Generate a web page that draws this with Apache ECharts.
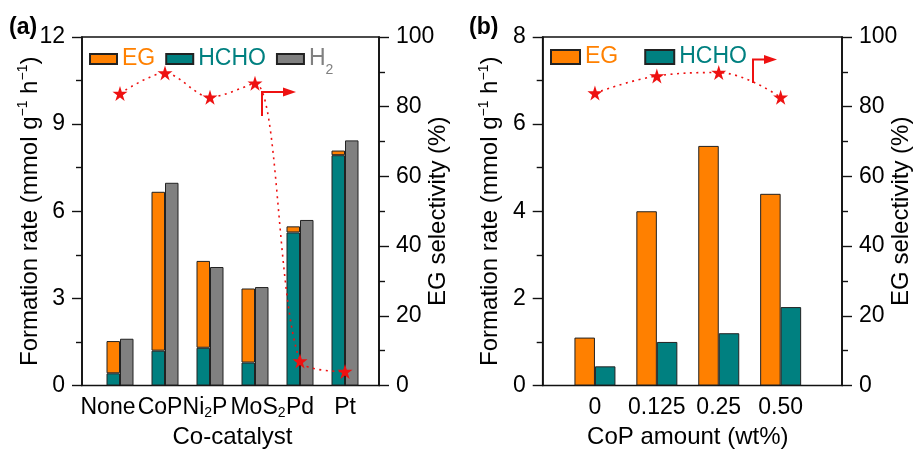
<!DOCTYPE html>
<html>
<head>
<meta charset="utf-8">
<script src="https://cdn.jsdelivr.net/npm/echarts@6/dist/echarts.min.js"></script>
<style>
  html, body { margin: 0; background: #fff; }
  #chart { width: 913px; height: 450px; }
</style>
</head>
<body>
<div id="chart"></div>
<script>
// panel (a): co-catalyst screening
const catalysts = ['None', 'CoP', 'Ni2P', 'MoS2', 'Pd', 'Pt'];
const hchoA = [0.42, 1.20, 1.30, 0.79, 5.27, 7.93];
const egA = [1.11, 5.47, 2.99, 2.55, 0.21, 0.16];
const h2A = [1.61, 6.98, 4.08, 3.39, 5.70, 8.44];
const selA = [83.8, 89.7, 82.7, 86.7, 7.0, 4.0];

// panel (b): CoP loading
const copAmounts = ['0', '0.125', '0.25', '0.50'];
const egB = [1.10, 4.00, 5.50, 4.40];
const hchoB = [0.44, 1.00, 1.20, 1.80];
const selB = [83.9, 88.8, 89.8, 82.7];

const FONT = '"Liberation Sans", Arial, sans-serif';
const ORANGE = '#ff8000';
const TEAL = '#008080';
const GRAY = '#808080';
const RED = '#ee1111';
const STAR = 'path://M0,-10L2.245,-3.09L9.51,-3.09L3.633,1.18L5.878,8.09L0,3.82L-5.878,8.09L-3.633,1.18L-9.51,-3.09L-2.245,-3.09Z';

// small horizontal nudges of the crowded labels in (a)
const labelPad = [[0, 24, 0, 0], [0, 10, 0, 0], [0, 10, 0, 0], [0, 0, 0, 6], [0, 0, 0, 0], [0, 0, 0, 0]];

const chart = echarts.init(document.getElementById('chart'));

const subRich = {
  n: { fontSize: 23, fontFamily: FONT, color: '#000', lineHeight: 26 },
  s: { fontSize: 14, fontFamily: FONT, color: '#000', lineHeight: 14, verticalAlign: 'bottom' }
};
const nameRich = {
  n: { fontSize: 24, fontFamily: FONT, color: '#000', lineHeight: 28 },
  p: { fontSize: 14, fontFamily: FONT, color: '#000', lineHeight: 14, verticalAlign: 'top' }
};
const rateName = '{n|Formation rate (mmol g}{p|\u22121}{n| h}{p|\u22121}{n|)}';

function frameAxis(grid, pos, max, interval, name) {
  return {
    gridIndex: grid, type: 'value', position: pos, min: 0, max: max, interval: interval,
    axisLine: { show: true, lineStyle: { color: '#111', width: 1.6 } },
    axisTick: { show: true, inside: false, length: 10, lineStyle: { color: '#111', width: 1.4 } },
    minorTick: { show: true, splitNumber: 2, length: 6, lineStyle: { color: '#111', width: 1.4 } },
    splitLine: { show: false },
    axisLabel: { fontSize: 23, fontFamily: FONT, color: '#000', margin: 17 },
    name: name, nameLocation: 'middle', nameRotate: 90, nameMoveOverlap: false,
    nameGap: pos === 'left' ? 38 : 45,
    nameTextStyle: { fontSize: 24, fontFamily: FONT, color: '#000', lineHeight: 28, rich: nameRich }
  };
}
function hiddenAxis(grid, max) {
  return { gridIndex: grid, type: 'value', min: 0, max: max, show: false };
}
function frameGrid(left, width) {
  return { left: left, top: 37, width: width, height: 348.5, show: true, outerBoundsMode: 'none',
    borderColor: '#111', borderWidth: 1.6, backgroundColor: 'transparent' };
}
const bar = (name, x, y, data, color, width, stack) => ({
  type: 'bar', name: name, xAxisIndex: x, yAxisIndex: y, data: data, stack: stack,
  barWidth: width, barGap: '0%',
  itemStyle: { color: color, borderColor: '#222', borderWidth: 1 }
});
const selLine = (x, y, data, smooth) => ({
  type: 'line', xAxisIndex: x, yAxisIndex: y, data: data, smooth: smooth, z: 5,
  symbol: STAR, symbolSize: 15,
  itemStyle: { color: RED },
  lineStyle: { color: RED, width: 1.6, type: [2, 4.5] }
});

const option = {
  animation: false,
  title: [
    { text: '(a)', left: 9, top: 16, padding: 0, textStyle: { fontSize: 23, fontWeight: 'bold', fontFamily: FONT, color: '#000' } },
    { text: '(b)', left: 469, top: 16, padding: 0, textStyle: { fontSize: 23, fontWeight: 'bold', fontFamily: FONT, color: '#000' } }
  ],
  legend: [
    {
      left: 89, top: 41, padding: 0, itemWidth: 27, itemHeight: 10, itemGap: 10,
      icon: 'rect', selectedMode: false,
      data: [
        { name: 'EG', textStyle: { color: ORANGE } },
        { name: 'HCHO', textStyle: { color: TEAL } },
        { name: 'H2', textStyle: { color: GRAY } }
      ],
      formatter: n => (n === 'H2' ? '{h|H}{s|2}' : n),
      textStyle: {
        fontSize: 23, fontFamily: FONT, lineHeight: 36,
        rich: {
          h: { fontSize: 23, fontFamily: FONT, color: GRAY, lineHeight: 36 },
          s: { fontSize: 14, fontFamily: FONT, color: GRAY, lineHeight: 14, padding: [22, 0, 0, 0] }
        }
      }
    },
    {
      left: 550, top: 39, padding: 0, itemWidth: 29, itemHeight: 14, itemGap: 26,
      icon: 'rect', selectedMode: false,
      data: [
        { name: 'EG', textStyle: { color: ORANGE } },
        { name: 'HCHO', textStyle: { color: TEAL } }
      ],
      textStyle: { fontSize: 23, fontFamily: FONT, lineHeight: 36 }
    }
  ],
  grid: [
    frameGrid(82, 297),
    { left: 97.5, top: 37, width: 270, height: 348.5, outerBoundsMode: 'none' },
    frameGrid(542.7, 299.3),
    { left: 564, top: 37, width: 247.6, height: 348.5, outerBoundsMode: 'none' }
  ],
  xAxis: [
    { gridIndex: 0, type: 'value', show: false, min: 0, max: 1 },
    {
      gridIndex: 1, type: 'category',
      data: catalysts.map((c, i) => ({ value: c, textStyle: { padding: labelPad[i] } })),
      axisLine: { show: false }, axisTick: { show: false },
      axisLabel: {
        interval: 0, margin: 9, color: '#000',
        formatter: v => '{n|' + v.replace(/(\d)/g, '}{s|$1}{n|') + '}',
        rich: subRich
      },
      name: 'Co-catalyst', nameLocation: 'middle', nameGap: 40, nameMoveOverlap: false,
      nameTextStyle: { fontSize: 24, fontFamily: FONT, color: '#000' }
    },
    { gridIndex: 2, type: 'value', show: false, min: 0, max: 1 },
    {
      gridIndex: 3, type: 'category', data: copAmounts,
      axisLine: { show: false }, axisTick: { show: false },
      axisLabel: { interval: 0, margin: 11, fontSize: 23, fontFamily: FONT, color: '#000' },
      name: 'CoP amount (wt%)', nameLocation: 'middle', nameGap: 40, nameMoveOverlap: false,
      nameTextStyle: { fontSize: 24, fontFamily: FONT, color: '#000' }
    }
  ],
  yAxis: [
    frameAxis(0, 'left', 12, 3, rateName),
    frameAxis(0, 'right', 100, 20, 'EG selectivity (%)'),
    hiddenAxis(1, 12),
    hiddenAxis(1, 100),
    frameAxis(2, 'left', 8, 2, rateName),
    frameAxis(2, 'right', 100, 20, 'EG selectivity (%)'),
    hiddenAxis(3, 8),
    hiddenAxis(3, 100)
  ],
  series: [
    bar('HCHO', 1, 2, hchoA, TEAL, 13.5, 'a'),
    bar('EG', 1, 2, egA, ORANGE, 13.5, 'a'),
    bar('H2', 1, 2, h2A, GRAY, 13.5),
    selLine(1, 3, selA, 0.3),
    bar('EG', 3, 6, egB, ORANGE, 20.5),
    bar('HCHO', 3, 6, hchoB, TEAL, 20.5),
    selLine(3, 7, selB, 0.4)
  ],
  graphic: [
    // "right axis" arrows
    { type: 'polyline', shape: { points: [[262, 116], [262, 92], [285, 92]] }, style: { stroke: RED, lineWidth: 2, fill: null } },
    { type: 'polygon', shape: { points: [[283, 87.5], [296, 92], [283, 96.5]] }, style: { fill: RED } },
    { type: 'polyline', shape: { points: [[753, 83], [753, 59.5], [766, 59.5]] }, style: { stroke: RED, lineWidth: 2, fill: null } },
    { type: 'polygon', shape: { points: [[764, 55], [777, 59.5], [764, 64]] }, style: { fill: RED } }
  ]
};

chart.setOption(option);
</script>
</body>
</html>
